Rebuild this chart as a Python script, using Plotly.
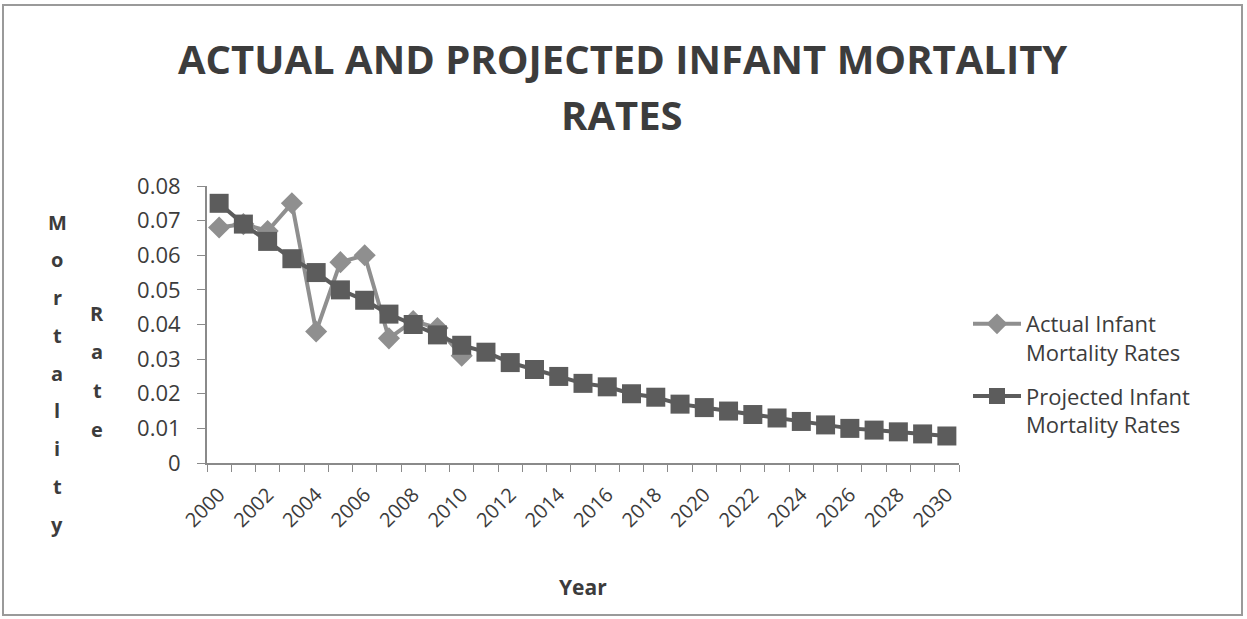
import plotly.graph_objects as go

# Years on the category axis
years = list(range(2000, 2031))

# Observed infant mortality rates (2000-2010)
actual_years = list(range(2000, 2011))
actual_rates = [0.068, 0.069, 0.067, 0.075, 0.038, 0.058, 0.060, 0.036, 0.041, 0.039, 0.031]

# Projected infant mortality rates (2000-2030)
projected_rates = [0.075, 0.069, 0.064, 0.059, 0.055, 0.050, 0.047, 0.043, 0.040, 0.037,
                   0.034, 0.032, 0.029, 0.027, 0.025, 0.023, 0.022, 0.020, 0.019, 0.017,
                   0.016, 0.015, 0.014, 0.013, 0.012, 0.011, 0.010, 0.0095, 0.009, 0.0084,
                   0.0078]

y_ticks = [0, 0.01, 0.02, 0.03, 0.04, 0.05, 0.06, 0.07, 0.08]
y_tick_text = ["0", "0.01", "0.02", "0.03", "0.04", "0.05", "0.06", "0.07", "0.08"]
x_label_years = list(range(2000, 2031, 2))

title_lines = ["ACTUAL AND PROJECTED INFANT MORTALITY", "RATES"]

TEXT = "#3c3c3c"
FONT = "Open Sans"
AXIS = "#8a8a8a"

# plot-area geometry in pixels (used to place free text in paper units)
W, H = 1247, 619
L, R, T, B = 207, 959, 186, 463


def px(x):
    return (x - L) / (R - L)


def py(y):
    return (B - y) / (B - T)


def label(text, x, y, size, bold=True):
    return dict(text=text, x=px(x), y=py(y), xref="paper", yref="paper",
                xanchor="center", yanchor="middle", showarrow=False,
                font=dict(family=FONT, size=size, color=TEXT,
                          weight="bold" if bold else "normal"))


fig = go.Figure()
fig.add_trace(go.Scatter(
    x=actual_years, y=actual_rates, mode="lines+markers",
    name="Actual Infant<br>Mortality Rates", legendgroup="actual",
    line=dict(color="#8f8f8f", width=4),
    marker=dict(symbol="diamond", size=17, color="#8f8f8f"),
))
fig.add_trace(go.Scatter(
    x=years, y=projected_rates, mode="lines+markers",
    name="Projected Infant<br>Mortality Rates", legendgroup="projected",
    line=dict(color="#5c5c5c", width=4),
    marker=dict(symbol="square", size=19, color="#5c5c5c"),
))

annotations = [label(title_lines[0], 622, 59, 40), label(title_lines[1], 622, 115, 40)]
# vertical stacked y-axis title letters
for i, ch in enumerate("Mortality"):
    annotations.append(label(ch, 57, 222 + 37.75 * i, 20))
for i, ch in enumerate("Rate"):
    annotations.append(label(ch, 97, 313 + 38.7 * i, 20))
annotations.append(label("Year", 583, 587, 21))

fig.update_layout(
    width=W, height=H,
    margin=dict(l=L, r=W - R, t=T, b=H - B),
    paper_bgcolor="white", plot_bgcolor="white",
    showlegend=True,
    legend=dict(x=px(968), y=py(303), xanchor="left", yanchor="top",
                font=dict(family=FONT, size=22, color=TEXT), valign="top",
                bgcolor="rgba(0,0,0,0)", tracegroupgap=12, itemwidth=48),
    annotations=annotations,
    shapes=[dict(type="rect", xref="paper", yref="paper",
                 x0=px(3), x1=px(1242), y0=py(615), y1=py(5),
                 line=dict(color="#9a9a9a", width=2), layer="below")],
    xaxis=dict(range=[1999.5, 2030.5], tickmode="array", tickvals=x_label_years,
               ticktext=[str(y) for y in x_label_years], tickangle=-45, ticks="",
               ticklabelstandoff=10,
               showgrid=False, zeroline=False, showline=True, linecolor=AXIS, linewidth=2,
               tickfont=dict(family=FONT, size=20, color=TEXT),
               minor=dict(tickmode="array", tickvals=[y - 0.5 for y in years] + [2030.5],
                          ticks="outside", ticklen=7, tickcolor=AXIS, showgrid=False)),
    yaxis=dict(range=[0, 0.08], tickmode="array", tickvals=y_ticks, ticktext=y_tick_text,
               ticks="outside", ticklen=8, tickcolor=AXIS, showgrid=False, zeroline=False,
               showline=True, linecolor=AXIS, linewidth=2, ticklabelstandoff=12,
               tickfont=dict(family=FONT, size=22, color=TEXT)),
)

fig.write_html("out.html")
